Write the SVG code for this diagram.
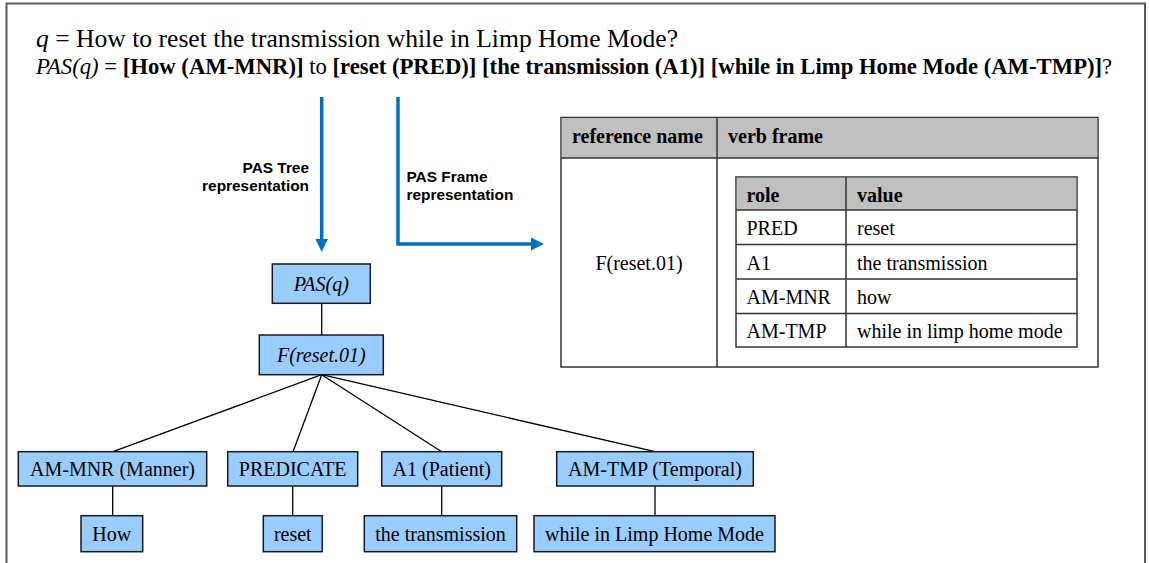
<svg xmlns="http://www.w3.org/2000/svg" width="1149" height="563" viewBox="0 0 1149 563">
  <style>
    .frame { fill: none; stroke: #5a5a5a; stroke-width: 2; }
    .serif { font-family: "Liberation Serif", "Times New Roman", serif; fill: #000; }
    .sans { font-family: "Liberation Sans", Arial, sans-serif; font-weight: bold; font-size: 15.4px; fill: #000; }
    .box { fill: #99CCFF; stroke: #1a1a1a; stroke-width: 1.5; }
    .node-text { font-size: 20px; text-anchor: middle; }
    .edge { stroke: #000; stroke-width: 1.3; fill: none; }
    .flow { stroke: #0070C0; stroke-width: 3.5; fill: none; marker-end: url(#head); }
    .cell { fill: #fff; stroke: #333; stroke-width: 1.5; }
    .hdr { fill: #C0C0C0; stroke: none; }
    .rule { stroke: #333; stroke-width: 1.5; fill: none; }
    .t20 { font-size: 20px; }
    .b { font-weight: bold; }
    .i { font-style: italic; }
  </style>
  <defs>
    <marker id="head" markerUnits="userSpaceOnUse" markerWidth="14" markerHeight="14" refX="1" refY="6.5" orient="auto">
      <path d="M0,0 L13,6.5 L0,13 z" fill="#0070C0"/>
    </marker>
  </defs>

  <rect width="1149" height="563" fill="#fff"/>
  <path class="frame" d="M6.5,570 V3.5 H1145 V570"/>

  <!-- question and its predicate-argument structure -->
  <g id="question">
    <text class="serif" x="36" y="47" font-size="25.6"><tspan class="i">q</tspan> = How to reset the transmission while in Limp Home Mode?</text>
    <text class="serif" x="36" y="74" font-size="22.7"><tspan class="i">PAS(q)</tspan> = <tspan class="b">[How (AM-MNR)]</tspan> to <tspan class="b">[reset (PRED)] [the transmission (A1)] [while in Limp Home Mode (AM-TMP)]</tspan>?</text>
  </g>

  <!-- blue representation arrows -->
  <g id="flows">
    <path class="flow" d="M321.7,97 V239.7"/>
    <path class="flow" d="M398,97 V244 H532"/>
    <text class="sans" text-anchor="end" x="309" y="172.7">PAS Tree</text>
    <text class="sans" text-anchor="end" x="309" y="191">representation</text>
    <text class="sans" x="406.5" y="181.5">PAS Frame</text>
    <text class="sans" x="406.5" y="200">representation</text>
  </g>

  <!-- frame table -->
  <g id="frame-table">
    <rect class="cell" x="561" y="117.5" width="537" height="249.5"/>
    <rect class="hdr" x="561.75" y="118.25" width="535.5" height="39.75"/>
    <path class="rule" d="M561,158 H1098 M717,117.5 V367"/>
    <text class="serif t20 b" x="572" y="143">reference name</text>
    <text class="serif t20 b" x="728" y="143">verb frame</text>
    <text class="serif t20" x="639" y="270" text-anchor="middle">F(reset.01)</text>

    <rect class="cell" x="736" y="177" width="341" height="170"/>
    <rect class="hdr" x="736.75" y="177.75" width="339.5" height="32.25"/>
    <path class="rule" d="M736,210 H1077 M736,244.5 H1077 M736,279 H1077 M736,313.5 H1077 M846,177 V347"/>
    <text class="serif t20 b" x="746.5" y="201.5">role</text>
    <text class="serif t20 b" x="857" y="201.5">value</text>
    <text class="serif t20" x="746.5" y="235">PRED</text>
    <text class="serif t20" x="857" y="235">reset</text>
    <text class="serif t20" x="746.5" y="269.5">A1</text>
    <text class="serif t20" x="857" y="269.5">the transmission</text>
    <text class="serif t20" x="746.5" y="303.5">AM-MNR</text>
    <text class="serif t20" x="857" y="303.5">how</text>
    <text class="serif t20" x="746.5" y="338">AM-TMP</text>
    <text class="serif t20" x="857" y="338">while in limp home mode</text>
  </g>

  <!-- tree edges -->
  <g id="edges">
    <path class="edge" d="M321.7,303.3 V335"/>
    <path class="edge" d="M321.7,374.7 L113,451.7"/>
    <path class="edge" d="M321.7,374.7 L293,451.7"/>
    <path class="edge" d="M321.7,374.7 L441.7,451.7"/>
    <path class="edge" d="M321.7,374.7 L655,451.7"/>
    <path class="edge" d="M112.7,486 V515.7"/>
    <path class="edge" d="M292.7,486 V515.7"/>
    <path class="edge" d="M441.7,486 V515.7"/>
    <path class="edge" d="M655,486 V515.7"/>
  </g>

  <!-- tree nodes -->
  <g id="node-pas">
    <rect class="box" x="272.3" y="264" width="98" height="39.3"/>
    <text class="serif node-text i" x="321.3" y="290.5">PAS(q)</text>
  </g>
  <g id="node-frame">
    <rect class="box" x="259.3" y="335" width="124" height="39.7"/>
    <text class="serif node-text i" x="321.3" y="362">F(reset.01)</text>
  </g>
  <g id="node-am-mnr">
    <rect class="box" x="18.3" y="451.7" width="188.4" height="34.3"/>
    <text class="serif node-text" x="112.5" y="476">AM-MNR (Manner)</text>
  </g>
  <g id="node-predicate">
    <rect class="box" x="227.7" y="451.7" width="130" height="34.3"/>
    <text class="serif node-text" x="292.7" y="476">PREDICATE</text>
  </g>
  <g id="node-a1">
    <rect class="box" x="381.7" y="451.7" width="120" height="34.3"/>
    <text class="serif node-text" x="441.7" y="476">A1 (Patient)</text>
  </g>
  <g id="node-am-tmp">
    <rect class="box" x="556.7" y="451.7" width="196.6" height="34.3"/>
    <text class="serif node-text" x="655" y="476">AM-TMP (Temporal)</text>
  </g>
  <g id="node-how">
    <rect class="box" x="81" y="515.7" width="61.7" height="36"/>
    <text class="serif node-text" x="111.8" y="541">How</text>
  </g>
  <g id="node-reset">
    <rect class="box" x="263.3" y="515.7" width="59" height="36"/>
    <text class="serif node-text" x="292.8" y="541">reset</text>
  </g>
  <g id="node-transmission">
    <rect class="box" x="364.3" y="515.7" width="152.4" height="36"/>
    <text class="serif node-text" x="440.5" y="541">the transmission</text>
  </g>
  <g id="node-while">
    <rect class="box" x="534" y="515.7" width="241" height="36"/>
    <text class="serif node-text" x="654.5" y="541">while in Limp Home Mode</text>
  </g>
</svg>
